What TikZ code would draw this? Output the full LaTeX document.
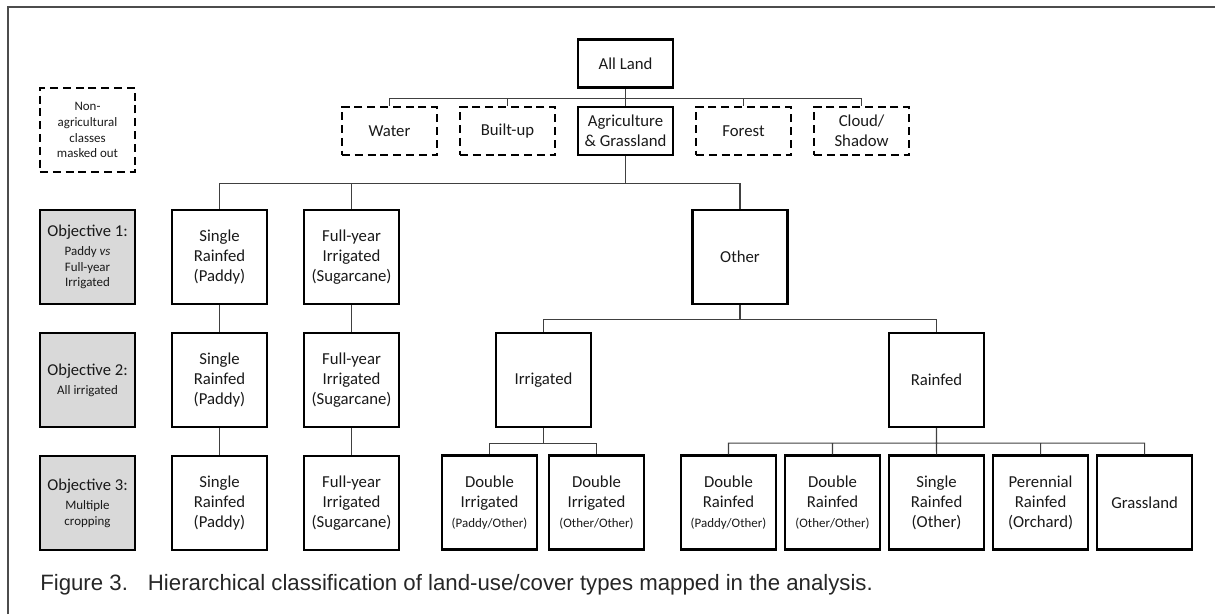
\documentclass[tikz,border=0pt]{standalone}
\usepackage{fontspec}
\setmainfont{Liberation Sans}
\newfontfamily\calibri{Carlito}
\usetikzlibrary{positioning}

\newcommand{\bigtxt}[1]{{\fontsize{11.8}{14.3}\selectfont #1}}
\newcommand{\smalltxt}[1]{{\fontsize{9.2}{11.3}\selectfont #1}}

\tikzset{
  box/.style={draw, line width=1.5pt, minimum width=2.375cm, minimum height=2.35cm,
    inner sep=1pt, align=center, text=black!90, font=\calibri\fontsize{11.9}{14.3}\selectfont},
  topbox/.style={box, minimum height=1.2cm},
  masked/.style={topbox, line width=1.3pt, dash pattern=on 0.2cm off 0.12cm},
  objbox/.style={box, fill=black!15, font=\calibri\fontsize{9.2}{11.3}\selectfont},
  link/.style={draw=black!75, line width=0.8pt},
  frame/.style={draw=black!70, line width=0.9pt}
}

\begin{document}
\begin{tikzpicture}[x=0.025cm, y=-0.025cm, node distance=2.95cm, on grid]
  \useasboundingbox (0,0) rectangle (1215,614);
  \draw[frame] (8,614) -- (8,7) -- (1215,7);

  % legend
  \node [masked, minimum height=2.1cm, font=\calibri\fontsize{9.2}{11.3}\selectfont] (legend) at (87.5,130)
        {Non-\\agricultural\\classes\\masked out};

  % first split
  \node [topbox] (allland) at (625.5,63.5) {All Land};
  \node [topbox] (agri) [below=1.69cm of allland] {Agriculture\\\& Grassland};
  \node [masked] (built) [left=of agri] {Built-up};
  \node [masked] (water) [left=of built] {Water};
  \node [masked] (forest) [right=of agri] {Forest};
  \node [masked] (cloud) [right=of forest] {Cloud/\\Shadow};

  % objectives
  \node [objbox] (obj1) at (87.5,257)
        {\bigtxt{Objective 1:}\\[2pt]Paddy \textit{vs}\\Full-year\\Irrigated};
  \node [objbox] (obj2) [below=3.075cm of obj1] {\bigtxt{Objective 2:}\\[2pt]All irrigated};
  \node [objbox] (obj3) [below=3.075cm of obj2] {\bigtxt{Objective 3:}\\[2pt]Multiple\\cropping};

  % paddy and sugarcane columns
  \node [box] (paddy1) at (219.5,257) {Single\\Rainfed\\(Paddy)};
  \node [box] (cane1) [right=3.3cm of paddy1] {Full-year\\Irrigated\\(Sugarcane)};
  \node [box] (paddy2) [below=3.075cm of paddy1] {Single\\Rainfed\\(Paddy)};
  \node [box] (cane2) [below=3.075cm of cane1] {Full-year\\Irrigated\\(Sugarcane)};
  \node [box] (paddy3) [below=3.075cm of paddy2] {Single\\Rainfed\\(Paddy)};
  \node [box] (cane3) [below=3.075cm of cane2] {Full-year\\Irrigated\\(Sugarcane)};

  % other
  \node [box] (other) at (740,257) {Other};
  \node [box] (irrig) at (543.5,380) {Irrigated};
  \node [box] (rainfed) at (936.5,380) {Rainfed};

  \node [box] (dblirr1) at (489.5,502.5) {Double\\Irrigated\\\smalltxt{(Paddy/Other)}};
  \node [box] (dblirr2) [right=2.675cm of dblirr1] {Double\\Irrigated\\\smalltxt{(Other/Other)}};

  \node [box] (dblrain1) at (728.5,502.5) {Double\\Rainfed\\\smalltxt{(Paddy/Other)}};
  \node [box] (dblrain2) [right=2.6cm of dblrain1] {Double\\Rainfed\\\smalltxt{(Other/Other)}};
  \node [box] (sglrain) [right=2.6cm of dblrain2] {Single\\Rainfed\\(Other)};
  \node [box] (orchard) [right=2.6cm of sglrain] {Perennial\\Rainfed\\(Orchard)};
  \node [box] (grass) [right=2.6cm of orchard] {Grassland};

  % connectors
  \draw[link] (allland.south) -- ++(0,10) -| (water.north)
              (allland.south) -- ++(0,10) -| (built.north)
              (allland.south) -- (agri.north)
              (allland.south) -- ++(0,10) -| (forest.north)
              (allland.south) -- ++(0,10) -| (cloud.north);
  \draw[link] (agri.south) -- ++(0,27) -| (paddy1.north)
              (agri.south) -- ++(0,27) -| (cane1.north)
              (agri.south) -- ++(0,27) -| (other.north);
  \draw[link] (paddy1) -- (paddy2) -- (paddy3)
              (cane1) -- (cane2) -- (cane3);
  \draw[link] (other.south) -- ++(0,14) -| (irrig.north)
              (other.south) -- ++(0,14) -| (rainfed.north);
  \draw[link] (irrig.south) -- ++(0,15) -| (dblirr1.north)
              (irrig.south) -- ++(0,15) -| (dblirr2.north);
  \draw[link] (rainfed.south) -- ++(0,15) -| (dblrain1.north)
              (rainfed.south) -- ++(0,15) -| (dblrain2.north)
              (rainfed.south) -- (sglrain.north)
              (rainfed.south) -- ++(0,15) -| (orchard.north)
              (rainfed.south) -- ++(0,15) -| (grass.north);

  \node [anchor=west, inner sep=0pt, text=black!85, font=\fontsize{15.8}{18}\selectfont] (caption) at (40,585)
        {Figure 3.\hspace{0.5cm}Hierarchical classification of land-use/cover types mapped in the analysis.};
\end{tikzpicture}
\end{document}
